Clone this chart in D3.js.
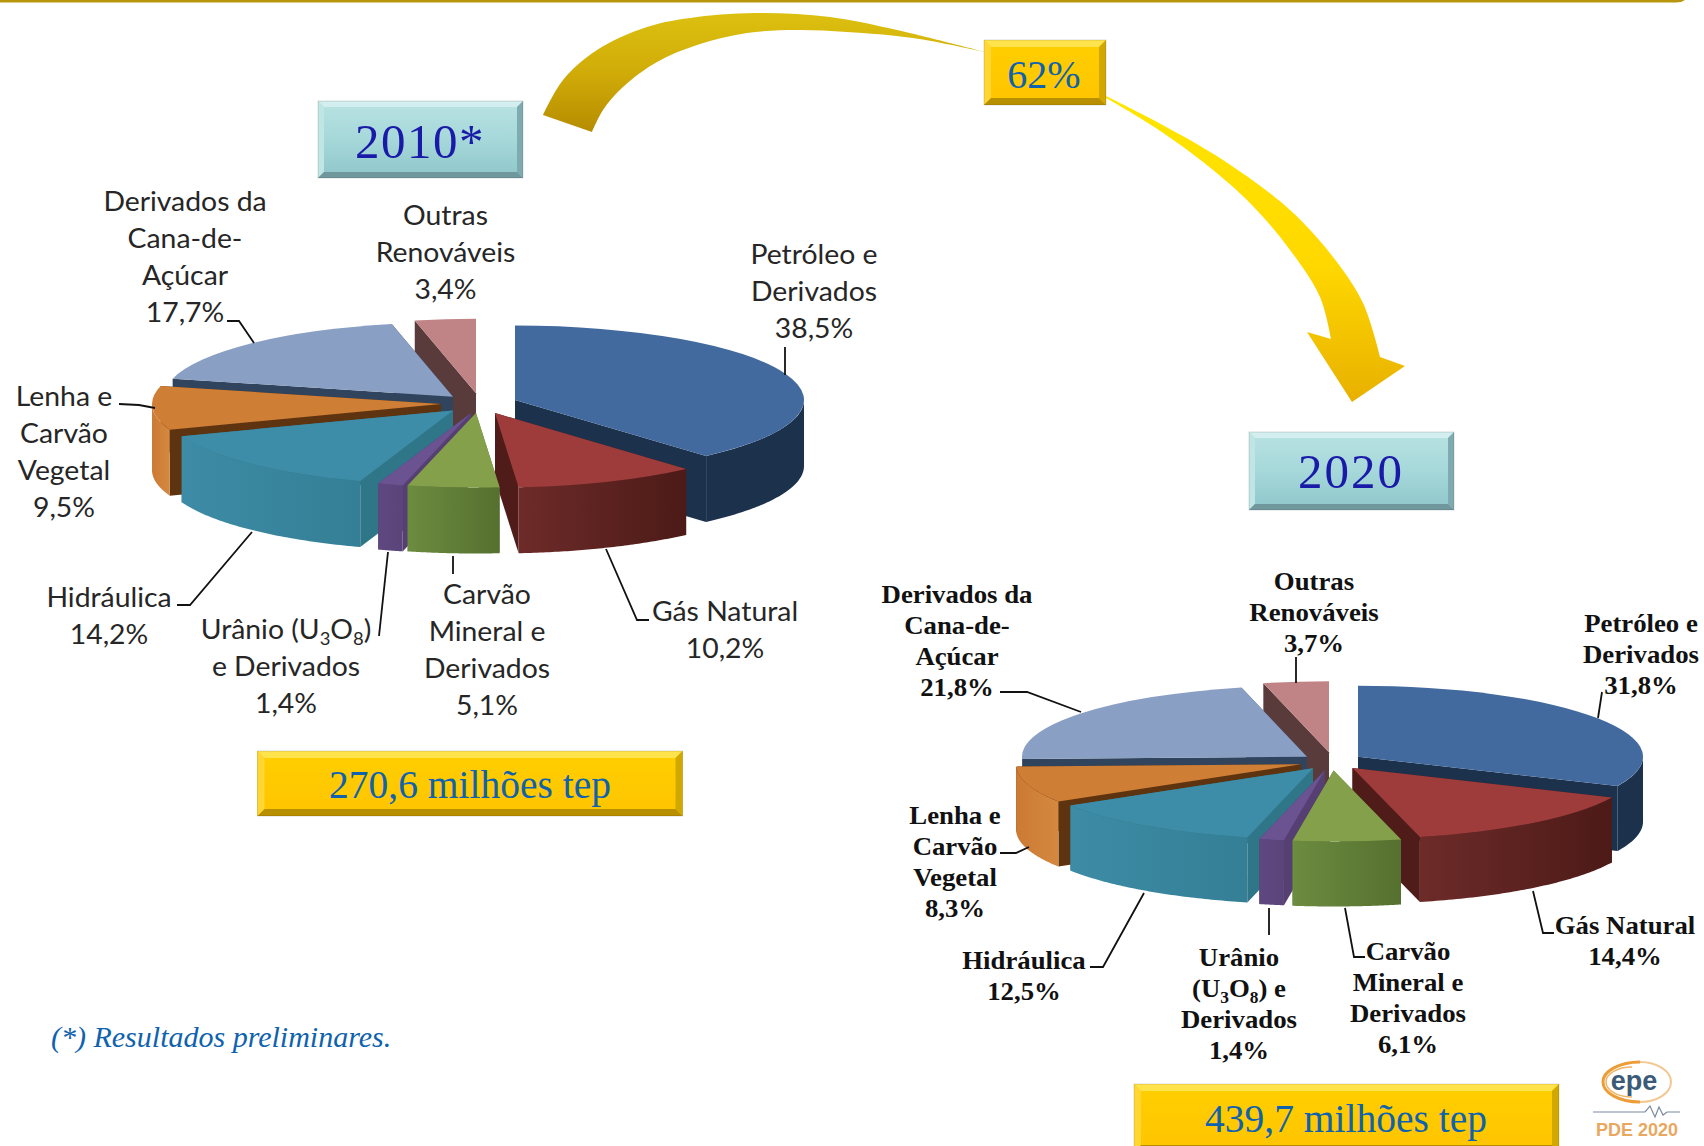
<!DOCTYPE html>
<html><head><meta charset="utf-8">
<script src="https://cdnjs.cloudflare.com/ajax/libs/d3/7.8.5/d3.min.js"></script>
<style>html,body{margin:0;padding:0;background:#fff}svg{display:block}</style>
</head><body><svg id="c" width="1704" height="1146"></svg>
<script>
// ---- data ----
const categories = ["Petróleo e Derivados","Gás Natural","Carvão Mineral e Derivados","Urânio (U3O8) e Derivados","Hidráulica","Lenha e Carvão Vegetal","Derivados da Cana-de-Açúcar","Outras Renováveis"];
const values2010 = [38.5,10.2,5.1,1.4,14.2,9.5,17.7,3.4];
const values2020 = [31.8,14.4,6.1,1.4,12.5,8.3,21.8,3.7];
const totals = ["270,6 milhões tep","439,7 milhões tep"];
const years = ["2010*","2020"];
const growth = "62%";
const footnote = "(*) Resultados preliminares.";

// ---- layout (exploded slice apexes, per category) ----
const apex2010 = [[515,400],[495,413],[476,413],[471,413],[453,410.5],[441,404],[453,396.7],[476,393.3]];
const apex2020 = [[1358,756.7],[1352.5,768],[1333.6,770.5],[1325,770],[1313,768.3],[1301,764.3],[1307,756.7],[1329,752.3]];
const labelLines = [["Petróleo e","Derivados"],["Gás Natural"],["Carvão","Mineral e","Derivados"],[["Urânio (U","3","O","8",")"],"e Derivados"],["Hidráulica"],["Lenha e","Carvão","Vegetal"],["Derivados da","Cana-de-","Açúcar"],["Outras","Renováveis"]];
const labelLines2020 = [["Petróleo e","Derivados"],["Gás Natural"],["Carvão","Mineral e","Derivados"],["Urânio",["(U","3","O","8",") e"],"Derivados"],["Hidráulica"],["Lenha e","Carvão","Vegetal"],["Derivados da","Cana-de-","Açúcar"],["Outras","Renováveis"]];
const labelPos2010 = [[814,254],[725,611],[487,594],[286,629],[109,597],[64,395.5],[185,201],[445.5,215]];
const labelPos2020 = [[1641,623],[1625,925],[1408,951],[1239,957],[1024,959.5],[955,815],[957,594],[1314,581]];
const leaders2010 = [[[785,347],[785,375]],[[606,549],[637,620],[649,620]],[[453,556],[453,574]],[[388,552],[379,636]],[[177,605],[190,605],[252,532]],[[119,404],[139,405],[155,408]],[[227,321],[239,321],[254,343]],[]];
const leaders2020 = [[[1602,692],[1598,718]],[[1533,891],[1543,933],[1554,933]],[[1345,908],[1354,957],[1365,957]],[[1269,908],[1269,935]],[[1090,967],[1103,967],[1144,893]],[[1000,853],[1016,853],[1029,847]],[[1000,692],[1027,692],[1081,712]],[[1296,657],[1296,683]]];

const topColor  = ["#426a9e","#9e3c3b","#84a04a","#6b5290","#3e8da8","#cf7e36","#8a9fc4","#c18486"];
const wallColor = ["#1b314c","#4f1c1a","#5a7233","#553f73","#2f7689","#5e3410","#30445e","#5a3b3c"];
const rimFrom   = ["#1b314c","#6d2b29","#6c8c40","#5e4880","#3d8ba6","#cc7a34","#30445e","#5a3b3c"];
const rimTo     = ["#1b314c","#4c1a17","#56702f","#5a4479","#347f95","#d48840","#30445e","#5a3b3c"];
const paintOrder = [7,6,5,0,1,4,3,2];

const svg = d3.select("#c");
const defs = svg.append("defs");
const TAU = Math.PI*2;
const pieLayout = d3.pie().sort(null).startAngle(0).endAngle(TAU);
const wallLine = d3.line();

function gradient(id, stops, x2, y2){
  const g = defs.append("linearGradient").attr("id",id).attr("x1",0).attr("y1",0).attr("x2",x2).attr("y2",y2);
  stops.forEach(([o,c])=>g.append("stop").attr("offset",o).attr("stop-color",c));
  return `url(#${id})`;
}
topColor.forEach((c,i)=>gradient("rim"+i,[[0,rimFrom[i]],[1,rimTo[i]]],1,0));

function drawPie(values, apexes, rx, ry, depth){
  const g = svg.append("g");
  const slices = pieLayout(values);
  const pt = (i,a)=>[apexes[i][0]+rx*Math.sin(a), apexes[i][1]-ry*Math.cos(a)];
  const topArc = d3.arc().innerRadius(0).outerRadius(rx);
  paintOrder.forEach(i=>{
    const s = slices[i], A = apexes[i];
    [s.startAngle,s.endAngle].forEach(a=>{
      const p = pt(i,a);
      g.append("path").attr("fill",wallColor[i])
       .attr("d",wallLine([A,p,[p[0],p[1]+depth],[A[0],A[1]+depth]])+"Z");
    });
    const a0 = Math.max(s.startAngle,Math.PI/2), a1 = Math.min(s.endAngle,Math.PI*1.5);
    if(a1>a0){
      const angs = d3.range(0,61).map(k=>a0+(a1-a0)*k/60);
      const upper = angs.map(a=>pt(i,a));
      const lower = angs.slice().reverse().map(a=>{const p=pt(i,a);return [p[0],p[1]+depth];});
      g.append("path").attr("fill",`url(#rim${i})`).attr("d",wallLine(upper.concat(lower))+"Z");
    }
    g.append("path").attr("fill",topColor[i])
     .attr("transform",`translate(${A[0]},${A[1]}) scale(1,${ry/rx})`)
     .attr("d",topArc({startAngle:s.startAngle,endAngle:s.endAngle}));
  });
}
drawPie(values2010, apex2010, 289, 74.5, 66);
drawPie(values2020, apex2020, 285, 71, 65);

// leaders
function drawLeaders(list){
  list.forEach(p=>{ if(p.length) svg.append("path").attr("d",wallLine(p)).attr("fill","none").attr("stroke","#111").attr("stroke-width",1.8); });
}
drawLeaders(leaders2010); drawLeaders(leaders2020);

// labels
const pct = v => v.toFixed(1).replace(".",",")+"%";
function drawLabels(values, lines, pos, style){
  values.forEach((v,i)=>{
    const all = lines[i].concat([pct(v)]);
    all.forEach((ln,k)=>{
      const t = svg.append("text").attr("text-anchor","middle")
        .attr("font-family",style.family).attr("font-size",style.size).attr("font-weight",style.weight).attr("fill",style.fill)
        .attr("transform",`translate(${pos[i][0]},${pos[i][1]+style.step*k+style.base}) scale(${style.sx},${style.sy})`);
      if(Array.isArray(ln)){
        ln.forEach((part,j)=>{
          const sub = j===1||j===3;
          const ts = t.append("tspan").text(part);
          if(sub) ts.attr("font-size",style.size*0.65).attr("dy",style.size*0.22);
          else if(j>0) ts.attr("dy",-style.size*0.22);
        });
      } else t.text(ln);
    });
  });
}
drawLabels(values2010,labelLines,labelPos2010,{family:"Lato",size:27,weight:400,fill:"#262626",step:37,base:10,sx:1.05,sy:1});
drawLabels(values2020,labelLines2020,labelPos2020,{family:"'Liberation Serif'",size:26,weight:700,fill:"#111",step:31,base:9,sx:1.03,sy:1});

// bevelled boxes
function bevelBox(x0,y0,x1,y1,b,face,top,left,right,bottom){
  const g = svg.append("g");
  const poly=(pts,f)=>g.append("path").attr("d",wallLine(pts)+"Z").attr("fill",f);
  poly([[x0,y0],[x1,y0],[x1,y1],[x0,y1]],face);
  poly([[x0,y0],[x1,y0],[x1-b,y0+b],[x0+b,y0+b]],top);
  poly([[x0,y0],[x0+b,y0+b],[x0+b,y1-b],[x0,y1]],left);
  poly([[x1,y0],[x1-b,y0+b],[x1-b,y1-b],[x1,y1]],right);
  poly([[x0,y1],[x0+b,y1-b],[x1-b,y1-b],[x1,y1]],bottom);
  g.append("rect").attr("x",x0).attr("y",y0).attr("width",x1-x0).attr("height",y1-y0).attr("fill","none").attr("stroke","#0002");
}
const teal = gradient("teal",[[0,"#b9e2e2"],[0.5,"#a6d8da"],[1,"#8fc6ca"]],0,1);
const yel = gradient("yel",[[0,"#ffcf00"],[1,"#ffc400"]],0,1);
const yelBox = (x0,y0,x1,y1)=>bevelBox(x0,y0,x1,y1,7,yel,"#ffe34d","#ffd633","#d0a800","#b88f00");
const tealBox = (x0,y0,x1,y1)=>bevelBox(x0,y0,x1,y1,6,teal,"#d3eeee","#bfe5e5","#7fabb0","#6f979c");

// arrows (painted before boxes)
const curve = d3.line().curve(d3.curveCatmullRom.alpha(0.5));
const gold = gradient("gold",[[0,"#dcc010"],[0.5,"#d0ac08"],[1,"#b68c00"]],0,1);
const sun = gradient("sun",[[0,"#ffe600"],[0.55,"#ffd800"],[1,"#e8b000"]],0,1);
svg.append("path").attr("fill",gold).attr("d",
  curve([[543,115],[563,80],[597,50],[647,27],[697,17],[763,13],[830,17],[897,30],[985,52]])+
  curve([[985,52],[913,38],[847,32],[797,30],[747,33],[697,45],[657,62],[623,87],[603,110],[592,132]]).replace(/^M/,"L")+"Z");
svg.append("path").attr("fill",sun).attr("d",
  curve([[1106,96],[1157,122],[1223,160],[1290,210],[1333,257],[1363,303],[1380,357]])+
  "L1405,366L1352,402L1307,332L1331,339"+
  curve([[1331,339],[1320,297],[1290,250],[1247,200],[1190,152],[1140,118],[1106,98]]).replace(/^M/,"L")+"Z");

tealBox(318,101,523,178);
tealBox(1249,432,1454,510);
yelBox(984,40,1106,105);
yelBox(257.5,751,682.5,816);
yelBox(1134,1084,1559,1152);

function centerText(txt,x,y,size,fill,sx,ls){
  svg.append("text").text(txt).attr("text-anchor","middle").attr("font-family","'Liberation Serif'").attr("font-size",size).attr("fill",fill)
    .attr("letter-spacing",ls||0).attr("transform",`translate(${x},${y}) scale(${sx},1)`);
}
centerText(years[0],420,158,49,"#1a1aa8",1,1.5);
centerText(years[1],1351,488,49,"#1a1aa8",1,2);
centerText(growth,1044,88,40,"#0f62ad",1);
centerText(totals[0],470,798,39.5,"#0f62ad",1);
centerText(totals[1],1346,1132,39.5,"#0f62ad",1);

svg.append("text").text(footnote).attr("x",51).attr("y",1047).attr("font-family","'Liberation Serif'").attr("font-style","italic").attr("font-size",30).attr("fill","#0f62ad");

// top rule
svg.append("path").attr("d","M0,1H1676Q1682,1 1685,-2").attr("fill","none").attr("stroke","#b8960c").attr("stroke-width",3);

// logo
const logo = svg.append("g").attr("fill","none");
logo.append("path").attr("d","M1640,1062A37,20 0 0 0 1640,1102").attr("stroke","#ec9d38").attr("stroke-width",3);
logo.append("path").attr("d","M1640,1102A31,20 0 0 0 1640,1062").attr("stroke","#f2c892").attr("stroke-width",2);
logo.append("path").attr("d","M1632,1067A26,15 0 0 0 1632,1097").attr("stroke","#f0b468").attr("stroke-width",1.5);
logo.append("text").text("epe").attr("x",1634).attr("y",1090).attr("text-anchor","middle").attr("font-family","'Liberation Sans'").attr("font-weight",700).attr("font-size",27).attr("fill","#3c5a78");
logo.append("path").attr("d",wallLine([[1593,1112],[1645,1112],[1650,1106],[1655,1117],[1659,1107],[1663,1115],[1667,1112],[1680,1112]])).attr("stroke","#7a8ba0").attr("stroke-width",1.2);
logo.append("text").text("PDE 2020").attr("x",1637).attr("y",1136).attr("text-anchor","middle").attr("font-family","'Liberation Sans'").attr("font-weight",700).attr("font-size",18).attr("fill","#e8a860");
</script></body></html>
